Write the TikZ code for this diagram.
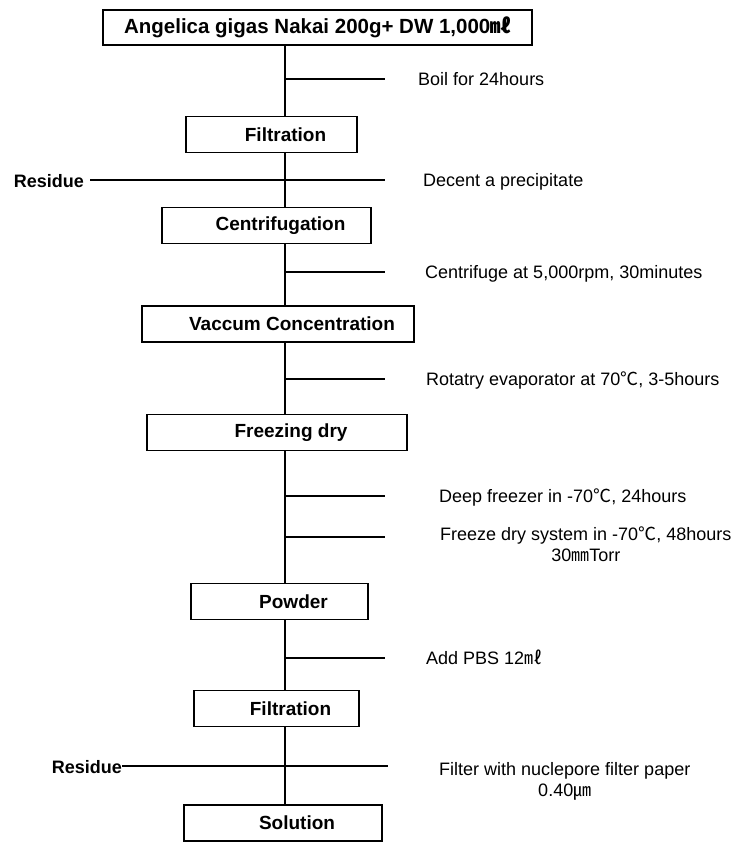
\documentclass[tikz,border=0pt]{standalone}
\usepackage{fontspec}
\setmainfont{Liberation Sans}
\newfontfamily\cjk{Noto Sans CJK KR}
\usetikzlibrary{positioning}
\tikzset{
  % --- process boxes (text sits a little right of centre) ---
  headbox/.style={draw, line width=1.2pt, minimum height=35pt, inner sep=0pt,
    font=\fontsize{19}{23}\selectfont\bfseries},
  stepbox/.style={headbox, minimum height=36pt,
    execute at begin node={\hspace*{28pt}}},
  % --- notes on the branches ---
  note/.style={anchor=west, inner sep=0pt, text height=12.8pt, text depth=0pt,
    font=\fontsize{18}{22}\selectfont},
  twonote/.style={anchor=north west, inner sep=0pt, align=center,
    font=\fontsize{18}{21}\selectfont},
  residue/.style={anchor=east, inner sep=0pt, text height=13pt, text depth=0pt,
    font=\fontsize{18}{22}\selectfont\bfseries},
  flow/.style={line width=1.2pt},
}

\begin{document}
\begin{tikzpicture}[x=1pt, y=-1pt]
  \useasboundingbox (0,0) rectangle (745,842);
  \coordinate (spine) at (285,0);
  \coordinate (tip) at (385,0);

  % ---- Process steps ----
  \node[headbox, minimum width=429pt, font=\fontsize{20.5}{24}\selectfont\bfseries]
    (raw) at (317.5,27.5) {Angelica gigas Nakai 200g+ DW 1,000{\cjk ㎖}};
  \node[stepbox, minimum width=171pt] (filt1) at (271.5,134.5) {Filtration};
  \node[stepbox, minimum width=209pt] (cent) at (266.5,225.5) {Centrifugation};
  \node[stepbox, minimum width=272pt] (vac) at (278,324) {Vaccum Concentration};
  \node[stepbox, minimum width=260pt] (fdry) at (277,432.5) {Freezing dry};
  \node[stepbox, minimum width=177pt] (powder) at (279.5,601.5) {Powder};
  \node[stepbox, minimum width=165pt] (filt2) at (276.5,708.5) {Filtration};
  \node[stepbox, minimum width=198pt] (sol) at (283,823) {Solution};

  % ---- Main line ----
  \foreach \a/\b in {raw/filt1, filt1/cent, cent/vac, vac/fdry, fdry/powder,
                     powder/filt2, filt2/sol}
    \draw[flow] (\a.south -| spine) -- (\b.north -| spine);

  % ---- Conditions ----
  \node[note] (boil) at (418,79) {Boil for 24hours};
  \node[note] (decant) at (423,180) {Decent a precipitate};
  \node[note] (spin) at (425,272) {Centrifuge at 5,000rpm, 30minutes};
  \node[note] (rotary) at (426,379) {Rotatry evaporator at 70{\cjk ℃}, 3-5hours};
  \node[note] (deep) at (439,496) {Deep freezer in -70{\cjk ℃}, 24hours};
  \node[note] (pbs) at (426,658) {Add PBS 12{\cjk ㎖}};
  \coordinate (fd) at (0,537);
  \node[twonote] (fdsys) at (440,527)
    {Freeze dry system in -70{\cjk ℃}, 48hours\\30{\cjk ㎜}Torr};
  \coordinate (nf) at (0,766);
  \node[twonote] (nuclepore) at (439,762)
    {Filter with nuclepore filter paper\\0.40{\cjk ㎛}};

  \foreach \n in {boil, spin, rotary, deep, pbs}
    \draw[flow] (spine |- \n.west) -- (tip |- \n.west);
  \draw[flow] (spine |- fd) -- (tip |- fd);

  % ---- Residues ----
  \node[residue] (res1) at (84,181) {Residue};
  \node[residue] (res2) at (122,767) {Residue};
  \draw[flow] ([xshift=6pt]res1.east |- decant.west) -- (tip |- decant.west);
  \draw[flow] (res2.east |- nf) -- ([xshift=3pt]tip |- nf);
\end{tikzpicture}
\end{document}
